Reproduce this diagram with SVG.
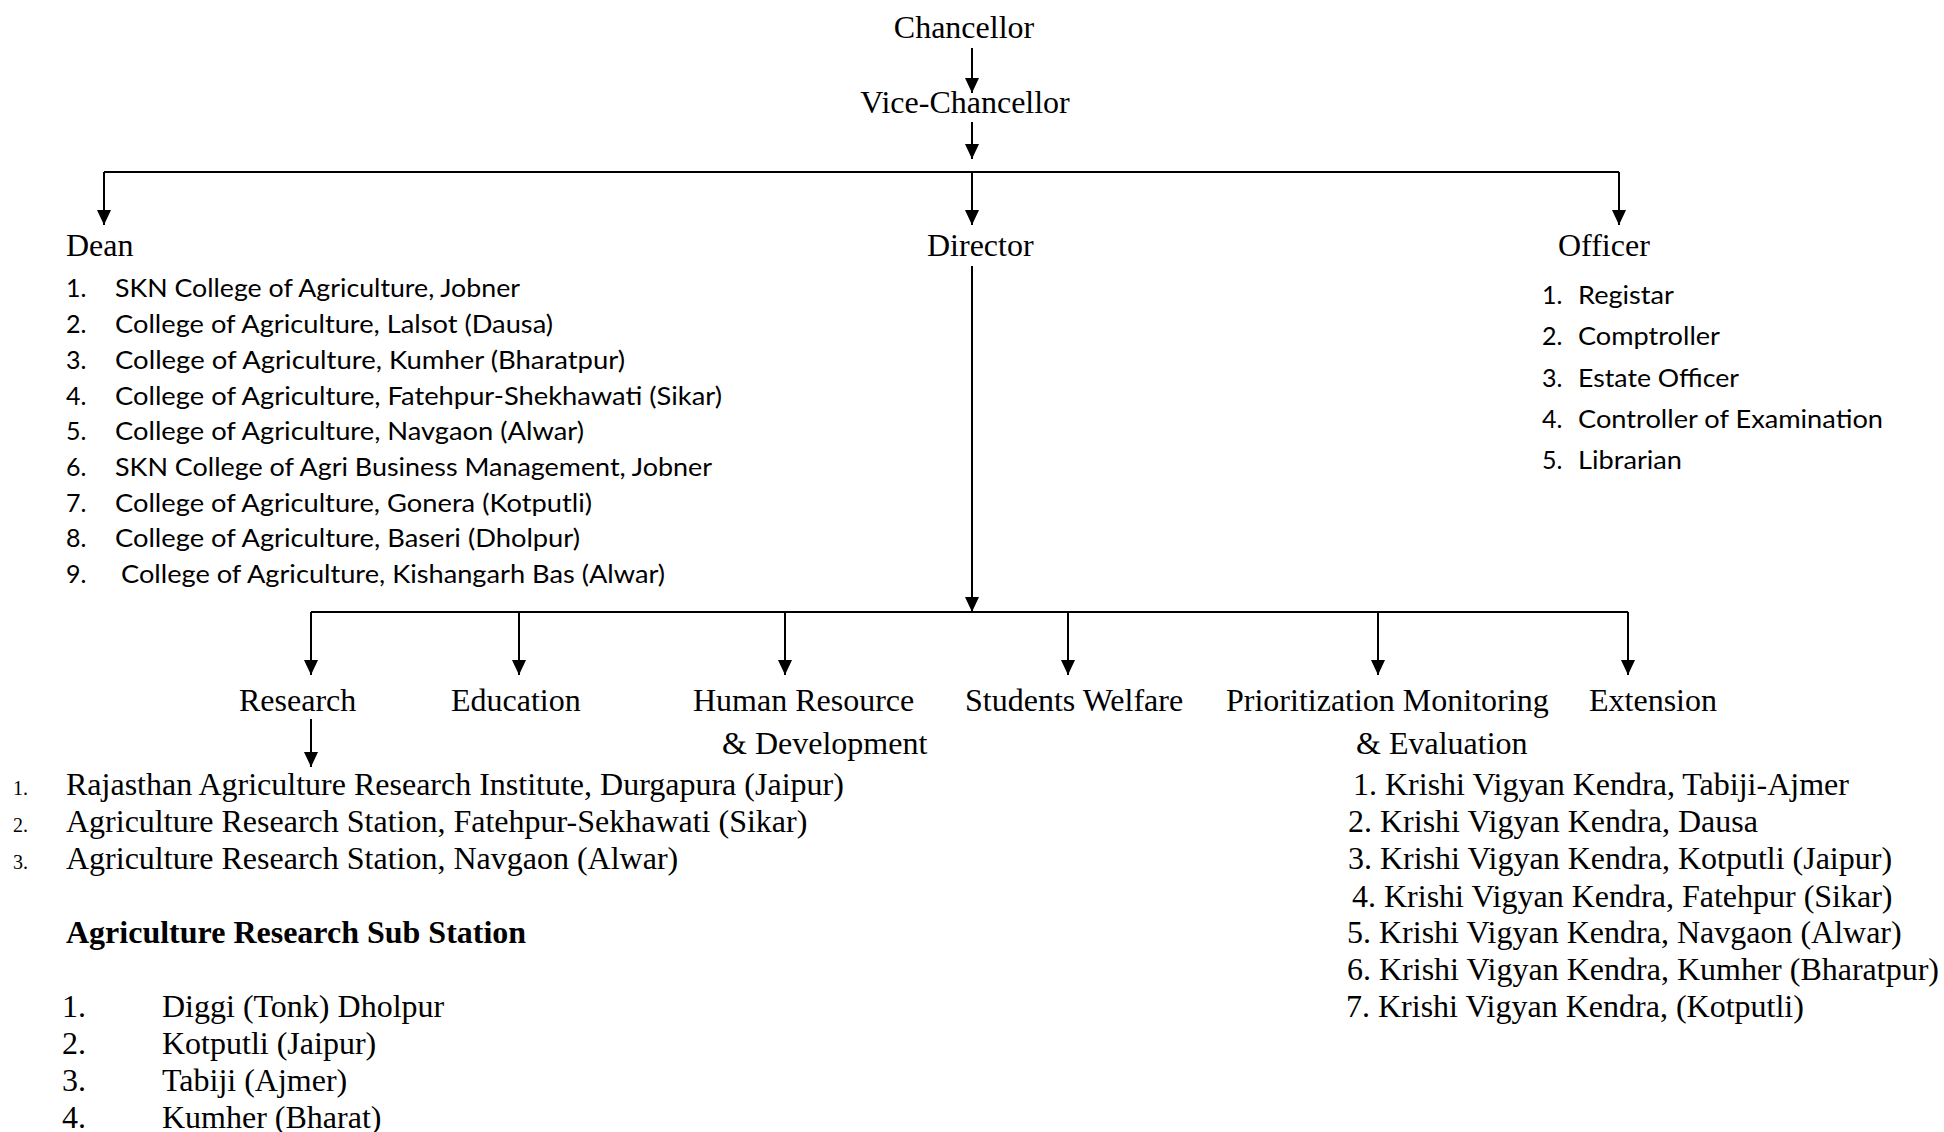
<svg xmlns="http://www.w3.org/2000/svg" width="1944" height="1132" viewBox="0 0 1944 1132">
<style>
.t{font-family:"Liberation Serif","Times New Roman",serif;font-size:32px;fill:#000}
.b{font-weight:bold}
.s{font-family:"Liberation Serif","Times New Roman",serif;font-size:20px;fill:#000}
.c{font-family:Lato,"Liberation Sans",sans-serif;font-size:25px;fill:#000}
.ln{stroke:#000;stroke-width:2;fill:none}
.ar{stroke:#000;stroke-width:2;fill:none;marker-end:url(#ah)}
</style>
<defs>
<marker id="ah" viewBox="0 0 15 14" refX="15" refY="7" markerWidth="15" markerHeight="14" markerUnits="userSpaceOnUse" orient="auto">
<path d="M0,0 L15,7 L0,14 z" fill="#000"/>
</marker>
</defs>
<rect width="1944" height="1132" fill="#fff"/>
<g id="connectors">
<line class="ar" x1="972" y1="48" x2="972" y2="93"/>
<line class="ar" x1="972" y1="122" x2="972" y2="159"/>
<line class="ln" x1="104" y1="172" x2="1619" y2="172"/>
<line class="ar" x1="104" y1="172" x2="104" y2="225"/>
<line class="ar" x1="972" y1="172" x2="972" y2="225"/>
<line class="ar" x1="1619" y1="172" x2="1619" y2="225"/>
<line class="ar" x1="972" y1="266" x2="972" y2="612"/>
<line class="ln" x1="311" y1="612" x2="1628" y2="612"/>
<line class="ar" x1="311" y1="612" x2="311" y2="675"/>
<line class="ar" x1="519" y1="612" x2="519" y2="675"/>
<line class="ar" x1="785" y1="612" x2="785" y2="675"/>
<line class="ar" x1="1068" y1="612" x2="1068" y2="675"/>
<line class="ar" x1="1378" y1="612" x2="1378" y2="675"/>
<line class="ar" x1="1628" y1="612" x2="1628" y2="675"/>
<line class="ar" x1="311" y1="719" x2="311" y2="767"/>
</g>
<g id="chancellor"><text class="t" x="964" y="38" text-anchor="middle">Chancellor</text></g>
<g id="vice-chancellor"><text class="t" x="965" y="113" text-anchor="middle">Vice-Chancellor</text></g>
<g id="dean">
<text class="t" x="66" y="256">Dean</text>
<g class="c">
<text x="66" y="297">1.</text><text x="115" y="297" textLength="405" lengthAdjust="spacingAndGlyphs">SKN College of Agriculture, Jobner</text>
<text x="66" y="333">2.</text><text x="115" y="333" textLength="438" lengthAdjust="spacingAndGlyphs">College of Agriculture, Lalsot (Dausa)</text>
<text x="66" y="369">3.</text><text x="115" y="369" textLength="510" lengthAdjust="spacingAndGlyphs">College of Agriculture, Kumher (Bharatpur)</text>
<text x="66" y="405">4.</text><text x="115" y="405" textLength="607" lengthAdjust="spacingAndGlyphs">College of Agriculture, Fatehpur-Shekhawati (Sikar)</text>
<text x="66" y="440">5.</text><text x="115" y="440" textLength="469" lengthAdjust="spacingAndGlyphs">College of Agriculture, Navgaon (Alwar)</text>
<text x="66" y="476">6.</text><text x="115" y="476" textLength="597" lengthAdjust="spacingAndGlyphs">SKN College of Agri Business Management, Jobner</text>
<text x="66" y="512">7.</text><text x="115" y="512" textLength="477" lengthAdjust="spacingAndGlyphs">College of Agriculture, Gonera (Kotputli)</text>
<text x="66" y="547">8.</text><text x="115" y="547" textLength="465" lengthAdjust="spacingAndGlyphs">College of Agriculture, Baseri (Dholpur)</text>
<text x="66" y="583">9.</text><text x="121" y="583" textLength="544" lengthAdjust="spacingAndGlyphs">College of Agriculture, Kishangarh Bas (Alwar)</text>
</g>
</g>
<g id="director"><text class="t" x="927" y="256">Director</text></g>
<g id="officer">
<text class="t" x="1558" y="256">Officer</text>
<g class="c">
<text x="1542" y="304">1.</text><text x="1578" y="304" textLength="96" lengthAdjust="spacingAndGlyphs">Registar</text>
<text x="1542" y="345">2.</text><text x="1578" y="345" textLength="142" lengthAdjust="spacingAndGlyphs">Comptroller</text>
<text x="1542" y="387">3.</text><text x="1578" y="387" textLength="161" lengthAdjust="spacingAndGlyphs">Estate Officer</text>
<text x="1542" y="428">4.</text><text x="1578" y="428" textLength="305" lengthAdjust="spacingAndGlyphs">Controller of Examination</text>
<text x="1542" y="469">5.</text><text x="1578" y="469" textLength="104" lengthAdjust="spacingAndGlyphs">Librarian</text>
</g>
</g>
<g id="research">
<text class="t" x="239" y="711">Research</text>
<text class="s" x="13" y="795">1.</text><text class="t" x="66" y="795">Rajasthan Agriculture Research Institute, Durgapura (Jaipur)</text>
<text class="s" x="13" y="832">2.</text><text class="t" x="66" y="832">Agriculture Research Station, Fatehpur-Sekhawati (Sikar)</text>
<text class="s" x="13" y="869">3.</text><text class="t" x="66" y="869">Agriculture Research Station, Navgaon (Alwar)</text>
<text class="t b" x="66" y="943">Agriculture Research Sub Station</text>
<text class="t" x="62" y="1017">1.</text><text class="t" x="162" y="1017">Diggi (Tonk) Dholpur</text>
<text class="t" x="62" y="1054">2.</text><text class="t" x="162" y="1054">Kotputli (Jaipur)</text>
<text class="t" x="62" y="1091">3.</text><text class="t" x="162" y="1091">Tabiji (Ajmer)</text>
<text class="t" x="62" y="1128">4.</text><text class="t" x="162" y="1128">Kumher (Bharat)</text>
</g>
<g id="education"><text class="t" x="451" y="711">Education</text></g>
<g id="hrd">
<text class="t" x="693" y="711">Human Resource</text>
<text class="t" x="722" y="754">&amp; Development</text>
</g>
<g id="students-welfare"><text class="t" x="965" y="711">Students Welfare</text></g>
<g id="pme">
<text class="t" x="1226" y="711">Prioritization Monitoring</text>
<text class="t" x="1356" y="754">&amp; Evaluation</text>
</g>
<g id="extension">
<text class="t" x="1589" y="711">Extension</text>
<text class="t" x="1353" y="795">1. Krishi Vigyan Kendra, Tabiji-Ajmer</text>
<text class="t" x="1348" y="832">2. Krishi Vigyan Kendra, Dausa</text>
<text class="t" x="1348" y="869">3. Krishi Vigyan Kendra, Kotputli (Jaipur)</text>
<text class="t" x="1352" y="907">4. Krishi Vigyan Kendra, Fatehpur (Sikar)</text>
<text class="t" x="1347" y="943">5. Krishi Vigyan Kendra, Navgaon (Alwar)</text>
<text class="t" x="1347" y="980">6. Krishi Vigyan Kendra, Kumher (Bharatpur)</text>
<text class="t" x="1346" y="1017">7. Krishi Vigyan Kendra, (Kotputli)</text>
</g>
</svg>
